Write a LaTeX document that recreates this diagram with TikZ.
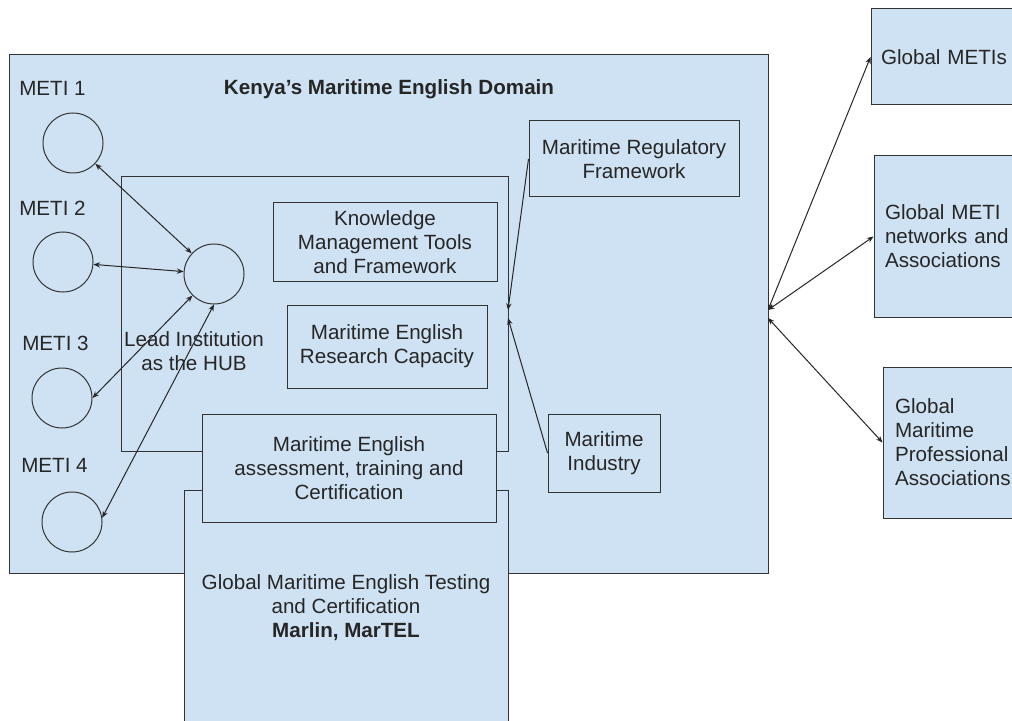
\documentclass[tikz,border=0pt]{standalone}
\usepackage{fontspec}
\setmainfont{Liberation Sans}
\usetikzlibrary{arrows.meta}
\definecolor{paneblue}{HTML}{CFE2F3}
\definecolor{edgegray}{HTML}{333333}

\begin{document}
\begin{tikzpicture}[x=0.75pt,y=-0.75pt,
  every node/.style={font=\fontsize{15.45pt}{18pt}\selectfont, text=black!85},
  panel/.style={draw=edgegray, fill=paneblue, line width=0.75pt, inner sep=0pt, align=center},
  sidepanel/.style={panel, align=left},
  institute/.style={draw=edgegray, circle, line width=0.75pt, minimum size=45pt, inner sep=0pt},
  tag/.style={anchor=west, inner sep=0pt},
  link/.style={draw=black!85, line width=0.75pt},
  >={Stealth[length=5pt,width=4pt]}]

\useasboundingbox (0,0) rectangle (1012,720);
\clip (0,0) rectangle (1012,720);

% national domain and the hub area inside it
\node[panel, minimum width=569.25pt, minimum height=388.5pt] (domain) at (388.5,314) {};
\node[panel, minimum width=290.25pt, minimum height=205.5pt] (hubzone) at (314.5,314) {};
\node[font=\fontsize{15.45pt}{18pt}\selectfont\bfseries] (title) at (389,89) {Kenya’s Maritime English Domain};

% components of the hub
\node[panel, minimum width=168pt, minimum height=58.5pt] (kmt) at (385,242) {Knowledge\\Management Tools\\and Framework};
\node[panel, minimum width=150pt, minimum height=62.25pt] (research) at (387,346.5) {Maritime English\\Research Capacity};
\node[panel, minimum width=243pt, minimum height=176.25pt] (testing) at (346,607.5) {Global Maritime English Testing\\and Certification\\\textbf{Marlin, MarTEL}};
\node[panel, minimum width=220.5pt, minimum height=81pt] (assess) at (349,468) {Maritime English\\assessment, training and\\Certification};

% national stakeholders
\node[panel, minimum width=157.5pt, minimum height=57pt] (reg) at (634,159) {Maritime Regulatory\\Framework};
\node[panel, minimum width=84pt, minimum height=58.5pt] (ind) at (604,453) {Maritime\\Industry};

% global partners
\node[sidepanel, text width=96.75pt, inner xsep=7.5pt, minimum height=72pt] (gmetis) at (945.5,57) {Global METIs};
\node[sidepanel, text width=93pt, inner xsep=8.25pt, minimum height=120.75pt] (networks) at (947,236.5) {Global METI\\networks and\\Associations};
\node[sidepanel, text width=84.75pt, inner xsep=9pt, minimum height=113.25pt] (prof) at (951.5,442.5) {Global\\Maritime\\Professional\\Associations};

% institutions
\node[institute] (m1) at (73,143) {};
\node[institute] (m2) at (63,262) {};
\node[institute] (m3) at (62,398) {};
\node[institute] (m4) at (72,522) {};
\node[institute] (hub) at (214,274) {};

\node[tag] (t1) at (19,88) {METI 1};
\node[tag] (t2) at (19,208) {METI 2};
\node[tag] (t3) at (22,343) {METI 3};
\node[tag] (t4) at (21,465) {METI 4};
\node[align=center, inner sep=0pt] (leadtxt) at (194,351.5) {Lead Institution\\as the HUB};

% junction points on the box borders
\coordinate (dA) at (768,310);
\coordinate (dB) at (768,318);
\coordinate (hA) at (508,310);
\coordinate (hB) at (508,318);

% connectors
\draw[link,<->] (m1) -- (hub);
\draw[link,<->] (m2) -- (hub);
\draw[link,<->] (hub.225) -- (m3.east);
\draw[link,<->] (hub.south) -- (m4.8);
\draw[link,->] (reg.west) -- (hA);
\draw[link,->] (ind.west) -- (hB);
\draw[link,<->] (dA) -- (gmetis.west);
\draw[link,<->] (dA) -- (networks.west);
\draw[link,<->] (dB) -- (prof.west);
\end{tikzpicture}
\end{document}
